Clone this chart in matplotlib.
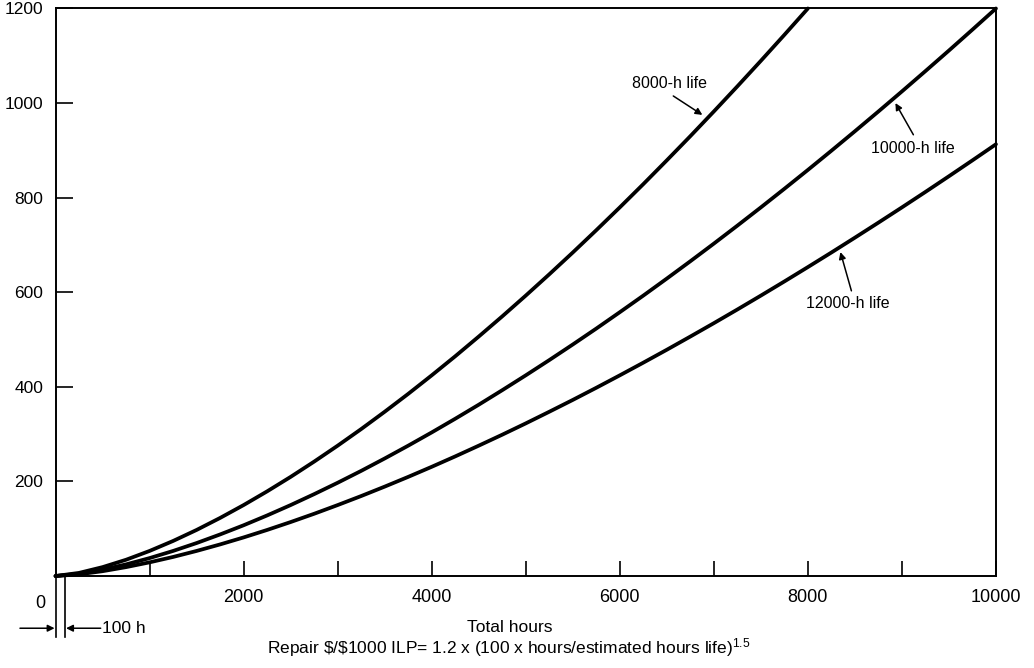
import numpy as np
import matplotlib
matplotlib.use('Agg')
import matplotlib.pyplot as plt

plt.rcParams['font.family'] = ['Liberation Sans', 'DejaVu Sans']
plt.rcParams['mathtext.fontset'] = 'custom'
plt.rcParams['mathtext.rm'] = 'Liberation Sans'
plt.rcParams['mathtext.default'] = 'regular'

# values every 250 h
hours = [0, 250, 500, 750, 1000, 1250, 1500, 1750, 2000, 2250, 2500,
         2750, 3000, 3250, 3500, 3750, 4000, 4250, 4500, 4750, 5000,
         5250, 5500, 5750, 6000, 6250, 6500, 6750, 7000, 7250, 7500,
         7750, 8000, 8250, 8500, 8750, 9000, 9250, 9500, 9750, 10000]
life_8000 = [0, 6.6, 18.8, 34.4, 53, 74.1, 97.4, 122.8, 150, 179, 209.6,
             241.9, 275.6, 310.7, 347.3, 385.1, 424.3, 464.6, 506.3, 549, 592.9,
             637.9, 684, 731.2, 779.4, 828.6, 878.9, 930, 982.2, 1035.3, 1089.3,
             1144.2, 1200]
life_10000 = [0, 4.7, 13.4, 24.6, 37.9, 53, 69.7, 87.9, 107.3, 128.1, 150,
              173.1, 197.2, 222.3, 248.5, 275.6, 303.6, 332.5, 362.2, 392.9, 424.3,
              456.5, 489.5, 523.2, 557.8, 592.9, 628.9, 665.5, 702.8, 740.8, 779.4,
              818.7, 858.6, 899.2, 940.4, 982.2, 1024.6, 1067.6, 1111.1, 1155.3, 1200]
life_12000 = [0, 3.6, 10.2, 18.8, 28.9, 40.3, 53, 66.8, 81.6, 97.4, 114.1,
              131.6, 150, 169.1, 189, 209.6, 230.9, 252.9, 275.6, 298.8, 322.7,
              347.3, 372.3, 398, 424.3, 451.1, 478.4, 506.3, 534.6, 563.5, 592.9,
              622.8, 653.2, 684, 715.4, 747.2, 779.4, 812.1, 845.3, 878.9, 912.9]

labels = ['8000-h life', '10000-h life', '12000-h life']
x_ticks = [2000, 4000, 6000, 8000, 10000]
x_minor = [1000, 3000, 5000, 7000, 9000]
y_ticks = [200, 400, 600, 800, 1000, 1200]

fig = plt.figure(figsize=(10.34, 6.68), dpi=100)
ax = fig.add_axes([0.0537, 0.1377, 0.9095, 0.8496])

for ys in (life_8000, life_10000, life_12000):
    ax.plot(hours[:len(ys)], ys, color='black', lw=2.7,
            solid_capstyle='round', solid_joinstyle='round', clip_on=False)

ax.set_xlim(0, 10000)
ax.set_ylim(0, 1200)

for sp in ax.spines.values():
    sp.set_linewidth(1.4)

ax.set_xticks(x_ticks)
ax.set_xticks(x_minor, minor=True)
ax.set_yticks(y_ticks)
ax.tick_params(axis='x', which='both', direction='in', length=11, width=1.2,
               labelsize=13, pad=9)
ax.tick_params(axis='y', direction='in', length=12, width=1.2,
               labelsize=12.5, pad=9)
ax.text(-0.0165, -0.033, '0', transform=ax.transAxes, ha='center', va='top',
        fontsize=13)

# curve labels with arrows: (label pos, arrow tail, arrow head)
label_pos = [(6527, 1042), (9112, 903), (8420, 577)]
arrow_tail = [(6569, 1015), (9122, 933), (8463, 603)]
arrow_head = [(6878, 975), (8931, 1000), (8346, 685)]
for lab, p, t, h in zip(labels, label_pos, arrow_tail, arrow_head):
    ax.text(p[0], p[1], lab, ha='center', va='center', fontsize=11.5)
    ax.annotate('', xy=h, xytext=t,
                arrowprops=dict(arrowstyle='-|>', color='black', lw=1.1,
                                shrinkA=0, shrinkB=0, mutation_scale=10))

# the 100 h marker under the axis
xt = ax.get_xaxis_transform()
for xv in (0, 100):
    ax.plot([xv, xv], [0, -0.107], transform=xt, color='black', lw=1.2,
            clip_on=False)
ax.annotate('', xy=(-10, -0.092), xytext=(-378, -0.092), xycoords=xt,
            textcoords=xt,
            arrowprops=dict(arrowstyle='-|>', color='black', lw=1.1,
                            shrinkA=0, shrinkB=0, mutation_scale=10))
ax.annotate('', xy=(112, -0.092), xytext=(480, -0.092), xycoords=xt,
            textcoords=xt,
            arrowprops=dict(arrowstyle='-|>', color='black', lw=1.1,
                            shrinkA=0, shrinkB=0, mutation_scale=10))
ax.text(490, -0.092, '100 h', transform=xt, ha='left', va='center',
        fontsize=12.5)

fig.text(510 / 1034, 1 - 627 / 668, 'Total hours', ha='center', va='center',
         fontsize=12.5)
fig.text(509 / 1034, 1 - 648 / 668,
         r'Repair \$/\$1000 ILP= 1.2 x (100 x hours/estimated hours life)$^{1.5}$',
         ha='center', va='center', fontsize=12.5)

fig.savefig('out.png', dpi=100)
